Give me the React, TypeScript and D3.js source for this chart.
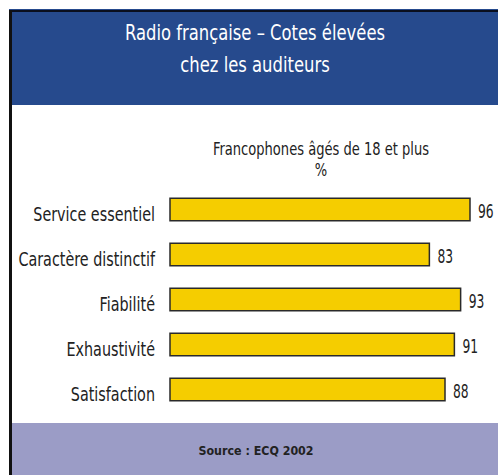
import React from "react";
import * as d3 from "d3";

const categories = ["Service essentiel", "Caractère distinctif", "Fiabilité", "Exhaustivité", "Satisfaction"];
const values = [96, 83, 93, 91, 88];
const titleLines = ["Radio française – Cotes élevées", "chez les auditeurs"];
const subtitleLines = ["Francophones âgés de 18 et plus", "%"];
const sourceText = "Source : ECQ 2002";

const W = 498;
const H = 475;
const FONT = "'DejaVu Sans Condensed', 'Liberation Sans', Arial, sans-serif";

type CTProps = {
  x: number;
  y: number;
  sx: number;
  size: number;
  anchor?: "start" | "middle" | "end";
  fill?: string;
  weight?: string;
  children: React.ReactNode;
};

function CText({ x, y, sx, size, anchor = "start", fill = "#222", weight = "normal", children }: CTProps) {
  return (
    <text
      transform={`translate(${x},${y}) scale(${sx},1)`}
      textAnchor={anchor}
      fill={fill}
      fontFamily={FONT}
      fontSize={size}
      fontWeight={weight}
    >
      {children}
    </text>
  );
}

export default function App() {
  const x = d3.scaleLinear().domain([0, 96]).range([170, 470]);
  const y = d3.scaleBand<string>().domain(categories).range([187, 412]).paddingInner(0.5).paddingOuter(0.25);
  const bh = y.bandwidth();
  return (
    <svg width={W} height={H} style={{ position: "absolute", left: 0, top: 0 }}>
      <rect x={0} y={0} width={W} height={H} fill="#ffffff" />
      {/* header */}
      <rect x={9} y={9} width={W - 9} height={96} fill="#264a8d" />
      <rect x={9} y={10} width={W - 9} height={2} fill="#0a0f1e" />
      {/* footer */}
      <rect x={9} y={423} width={W - 9} height={H - 423} fill="#9b9cc6" />
      {/* left border */}
      <rect x={9} y={10} width={3} height={H - 10} fill="#111111" />
      {titleLines.map((t, i) => (
        <CText key={t} x={255} y={40 + i * 32} sx={0.89} size={20.5} anchor="middle" fill="#ffffff">
          {t}
        </CText>
      ))}
      {subtitleLines.map((t, i) => (
        <CText key={t} x={321} y={155 + i * 21} sx={0.83} size={17.5} anchor="middle">
          {t}
        </CText>
      ))}
      {categories.map((c, i) => {
        const yy = y(c) as number;
        return (
          <g key={c}>
            <rect x={x(0)} y={yy} width={x(values[i]) - x(0)} height={bh} fill="#f5cd00" stroke="#2a2a2a" strokeWidth={1.5} />
            <CText x={155} y={yy + bh / 2 + 11.5} sx={0.84} size={19} anchor="end">
              {c}
            </CText>
            <CText x={x(values[i]) + 8} y={yy + bh / 2 + 8.5} sx={0.72} size={19}>
              {values[i]}
            </CText>
          </g>
        );
      })}
      <CText x={256} y={455} sx={0.95} size={13} anchor="middle" weight="bold">
        {sourceText}
      </CText>
    </svg>
  );
}
